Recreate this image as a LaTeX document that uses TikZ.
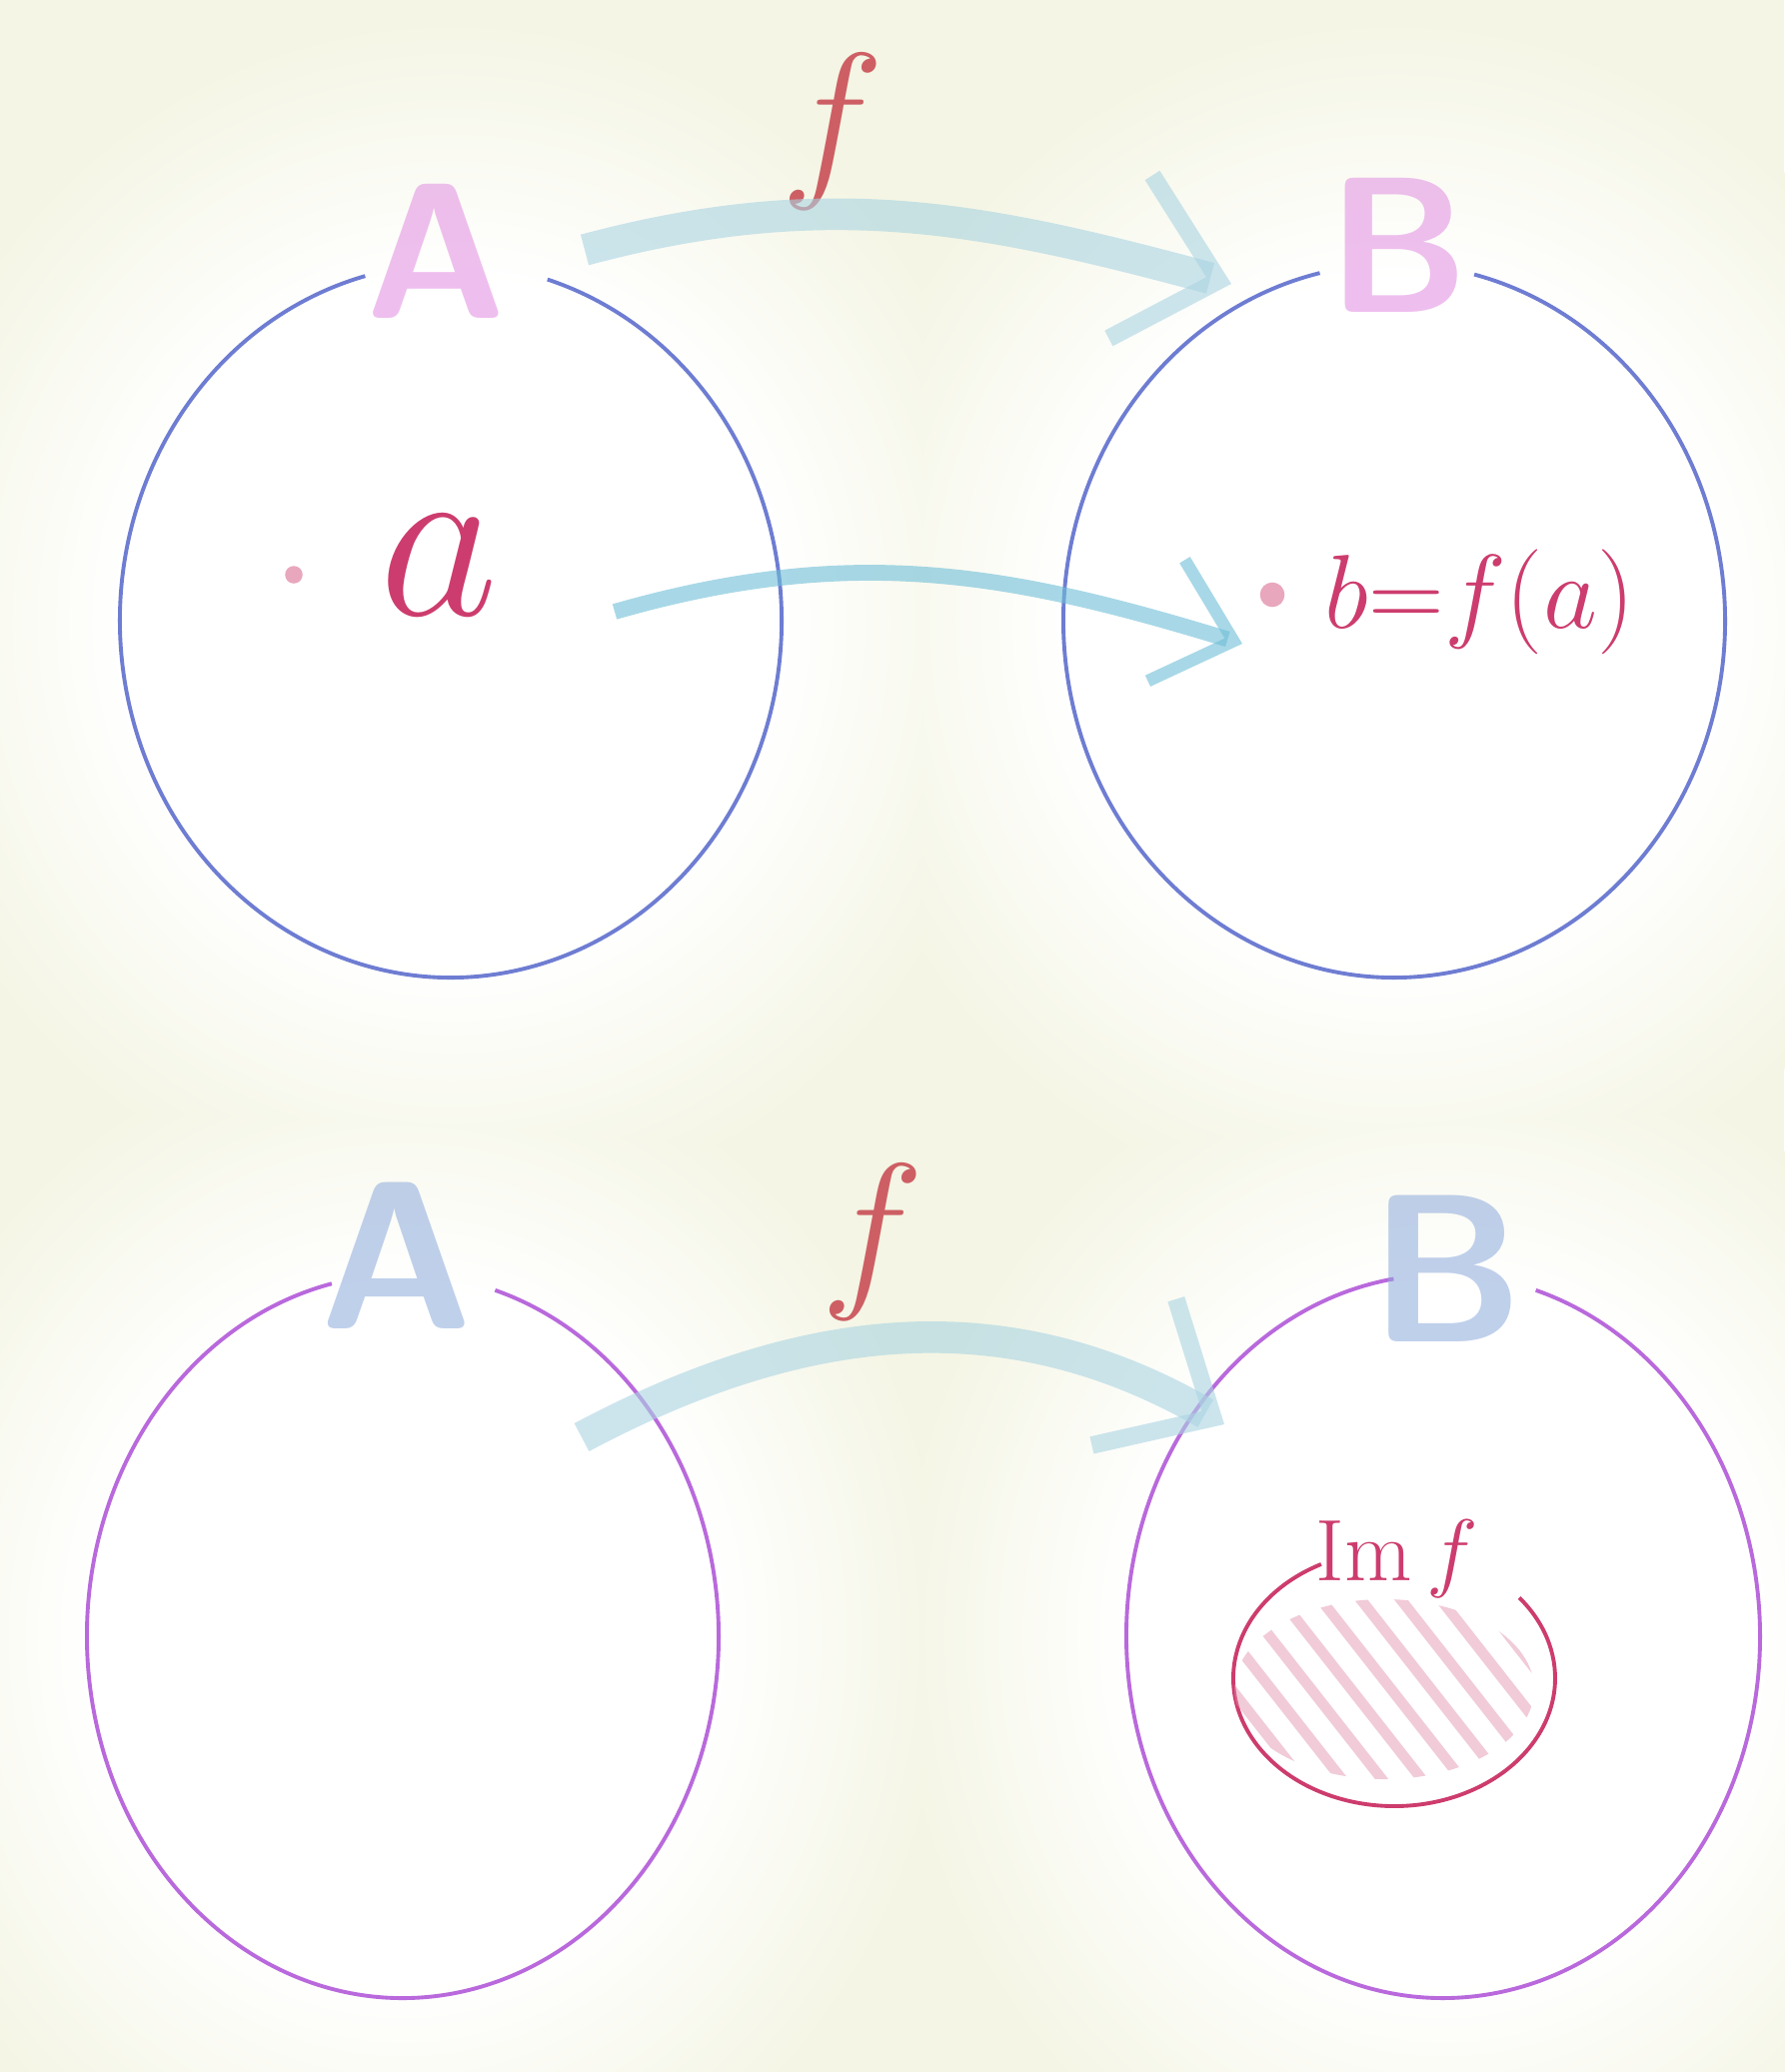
\documentclass[tikz,border=0pt]{standalone}
\usepackage{xcolor}
\usepackage{tikz}
\usetikzlibrary{arrows.meta, positioning, calc}

\definecolor{bgcream}{RGB}{244,245,228}
\definecolor{setblue}{RGB}{110,125,210}
\definecolor{setpurple}{RGB}{185,105,220}
\definecolor{inkred}{RGB}{205,60,110}
\definecolor{fred}{RGB}{205,95,100}
\definecolor{bandblue}{RGB}{170,212,226}
\definecolor{midblue}{RGB}{110,190,215}
\definecolor{labpink}{RGB}{225,140,225}
\definecolor{labblue}{RGB}{140,170,220}
\definecolor{hatchpink}{RGB}{225,140,170}

\pgfdeclareradialshading{glow}{\pgfpointorigin}{color(0bp)=(white); color(14bp)=(white); color(25bp)=(bgcream); color(50bp)=(bgcream)}

\begin{document}
\begin{tikzpicture}[
  x=0.01cm, y=0.01cm,
  setline/.style={line width=1.1pt},
  setlab/.style={font=\fontsize{55}{55}\selectfont\sffamily\bfseries, opacity=0.55, inner sep=0pt},
  ink/.style={text=inkred, inner sep=0pt, font=\fontsize{24.88}{25}\selectfont},
  ptdot/.style={circle, fill=inkred, opacity=0.45, inner sep=0pt, minimum size=5pt},
  band/.style={draw=bandblue, opacity=0.6, line width=9pt,
    -{Straight Barb[length=26pt, width=48pt, line width=5pt]}},
  hatch/.style={draw=hatchpink, line width=3pt, line cap=round, opacity=0.45}
]
% page
\useasboundingbox (0,0) rectangle (1785,-2073);
\fill[bgcream] (0,0) rectangle (1785,-2073);

% set centres
\coordinate (cA1) at (451,-621);
\coordinate (cB1) at (1395,-621);
\coordinate (cA2) at (403,-1637);
\coordinate (cB2) at (1444,-1637);
\coordinate (cIm) at (1395,-1679);

% soft white glow behind the sets
\begin{scope}[blend mode=lighten]
\foreach \c/\rx/\ry in {cA1/331/357, cB1/331/357, cA2/316/362, cB2/317/362}
  \shade[shading=glow] (\c) ellipse[x radius=\rx*1.75, y radius=\ry*1.7];
\end{scope}

% sets, open at the top for the letter
\draw[setline, setblue] (cA1) ++(105:331 and 357) arc[start angle=105, end angle=433, x radius=331, y radius=357];
\draw[setline, setblue] (cB1) ++(103:331 and 357) arc[start angle=103, end angle=436, x radius=331, y radius=357];
\draw[setline, setpurple] (cA2) ++(103:316 and 362) arc[start angle=103, end angle=433, x radius=316, y radius=362];
\draw[setline, setpurple] (cB2) ++(99:317 and 362) arc[start angle=99, end angle=433, x radius=317, y radius=362];

\node[setlab, text=labpink] (labA1) at (436,-251) {A};
\node[setlab, text=labpink] (labB1) at (1399,-245) {B};
\node[setlab, text=labblue, font=\fontsize{60}{60}\selectfont\sffamily\bfseries] (labA2) at (397,-1256) {A};
\node[setlab, text=labblue, font=\fontsize{60}{60}\selectfont\sffamily\bfseries] (labB2) at (1448,-1269) {B};

% top: f sends a to b
\node[ink, text=fred] (f1) at (833,-132) {\scalebox{2}{$f$}};
\coordinate (t1s) at (585,-250);
\coordinate (t1e) at (1232,-284);
\draw[band] (t1s) to[out=15, in=165] (t1e);

\node[ptdot] (pa) at (294,-575) {};
\node[ink] (a) at (439,-566) {\scalebox{2.65}{$a$}};
\node[ptdot, minimum size=7pt] (pb) at (1273,-595) {};
\node[ink, anchor=west] (b) at (1325,-602) {\scalebox{1.2}{$b{=}f(a)$}};
\coordinate (m1s) at (615,-612);
\coordinate (m1e) at (1243,-644);
\draw[band, draw=midblue, line width=4.5pt,
  -{Straight Barb[length=20pt, width=36pt, line width=3.5pt]}] (m1s) to[out=16, in=163] (m1e);

% bottom: image of f
\node[ink, text=fred] (f2) at (873,-1243) {\scalebox{2}{$f$}};
\coordinate (b2s) at (582,-1438);
\coordinate (b2e) at (1225,-1425);
\draw[band] (b2s) to[out=28, in=150] (b2e);

\draw[setline, inkred] (cIm) ++(117:161 and 128) arc[start angle=117, end angle=399, x radius=161, y radius=128];
\node[ink] (imf) at (1398,-1560) {$\mathrm{Im}\,f$};
\begin{scope}
  \clip (1385,-1690) ellipse[x radius=150, y radius=90];
  \foreach \k in {0,...,10}
    \draw[hatch] (1130+\k*40,-1560) -- ++(200,-255);
\end{scope}
\end{tikzpicture}
\end{document}
